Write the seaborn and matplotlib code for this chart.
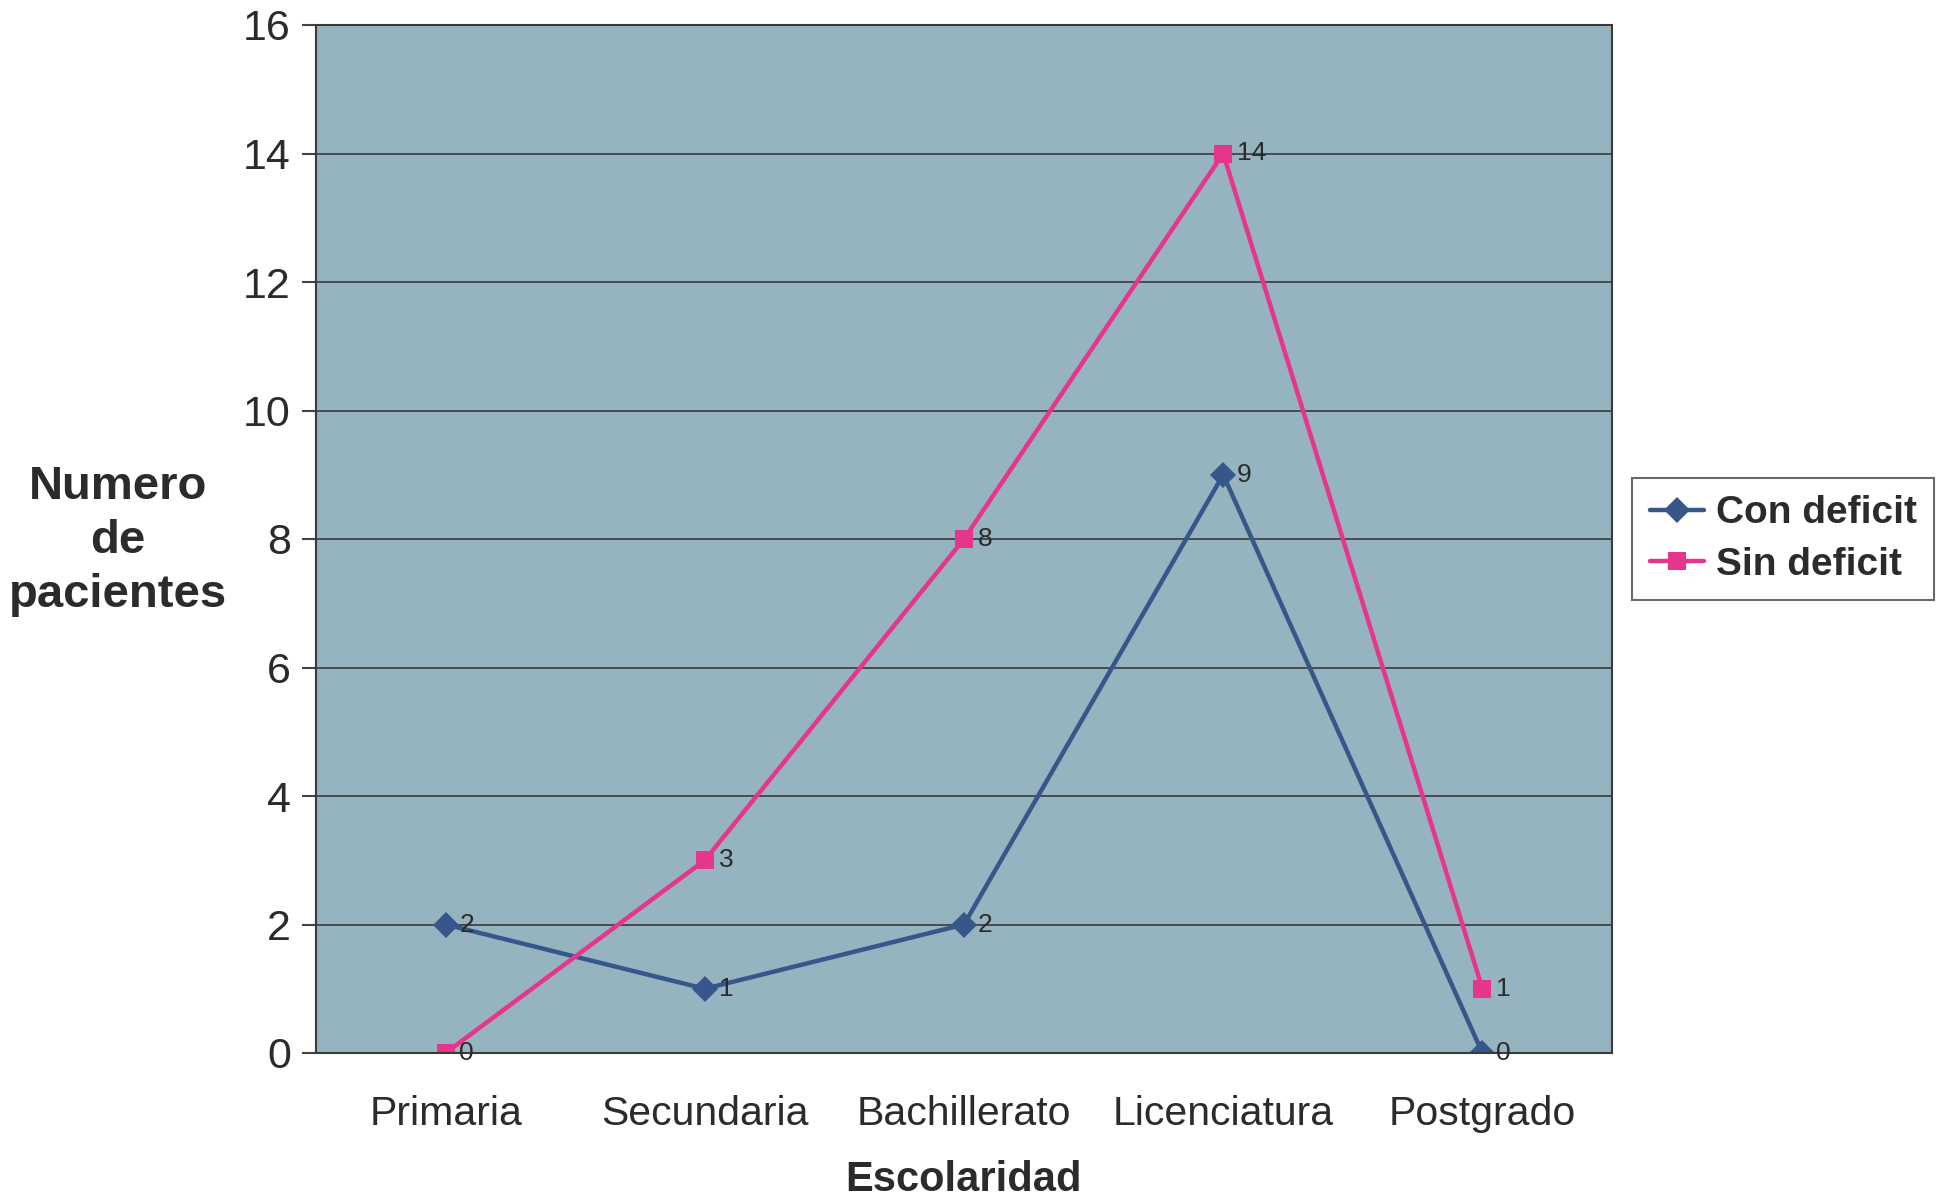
import matplotlib
matplotlib.use("Agg")
import matplotlib.pyplot as plt
import seaborn as sns
import pandas as pd
import numpy as np

categories = ["Primaria", "Secundaria", "Bachillerato", "Licenciatura", "Postgrado"]
con_deficit = [2, 1, 2, 9, 0]
sin_deficit = [0, 3, 8, 14, 1]
series_names = ["Con deficit", "Sin deficit"]
y_ticks = [0, 2, 4, 6, 8, 10, 12, 14, 16]

sns.set_theme(style="white")
plt.rcParams["font.family"] = ["Liberation Sans", "DejaVu Sans"]

df = pd.DataFrame({
    "pos": list(range(len(categories))) * 2,
    "valor": con_deficit + sin_deficit,
    "serie": [series_names[0]] * len(categories) + [series_names[1]] * len(categories),
})

colors = {"Con deficit": "#37568a", "Sin deficit": "#e6358c"}
markers = {"Con deficit": "D", "Sin deficit": "s"}
text_color = "#2b2b2b"

fig = plt.figure(figsize=(19.41, 11.99), dpi=100)
ax = fig.add_axes([316 / 1941, 1 - 1053 / 1199, (1612 - 316) / 1941, (1053 - 25) / 1199])
ax.set_facecolor("#96b4bf")

sns.lineplot(data=df, x="pos", y="valor", hue="serie", style="serie",
             palette=colors, markers=markers, dashes=False, linewidth=3.2,
             markersize=13, markeredgewidth=0, ax=ax, legend=True)

# value labels beside each point
for vals in (con_deficit, sin_deficit):
    for i, v in enumerate(vals):
        ax.annotate(str(v), (i, v), xytext=(10, 0), textcoords="offset points",
                    ha="left", va="center", fontsize=19, color=text_color)

ax.set_xlim(-0.5, len(categories) - 0.5)
ax.set_ylim(0, 16)
ax.set_yticks(y_ticks)
ax.set_yticklabels([str(t) for t in y_ticks], fontsize=31, color=text_color)
ax.yaxis.grid(True, color="#3a3a3a", linewidth=1.2)
for line in ax.get_ygridlines():
    line.set_zorder(1)

ax.set_xticks(range(len(categories)))
ax.set_xticklabels(categories, fontsize=29.5, color=text_color)
ax.tick_params(axis="x", which="major", length=0, pad=30)
ax.set_xticks(np.arange(-0.5, len(categories)), minor=True)
ax.tick_params(axis="x", which="minor", length=10, width=1.5, color="#444444", direction="out")
ax.tick_params(axis="y", which="major", length=10, width=1.5, color="#444444", direction="out", pad=8)
ax.tick_params(axis="both", bottom=True, left=True)
ax.tick_params(axis="x", which="major", bottom=False)

for s in ax.spines.values():
    s.set_color("#3a3a3a")
    s.set_linewidth(1.5)

ax.set_xlabel("Escolaridad", fontsize=30, fontweight="bold", color=text_color, labelpad=20)
ax.set_ylabel("")
fig.text(118 / 1941, 1 - 541 / 1199, "Numero\nde\npacientes", ha="center", va="center",
         fontsize=34, fontweight="bold", color=text_color, linespacing=1.28)

handles, labels = ax.get_legend_handles_labels()
leg = fig.legend(handles, labels, loc="center left",
                 bbox_to_anchor=(1632 / 1941, 1 - 539 / 1199), borderaxespad=0,
                 frameon=True, fancybox=False, edgecolor="#444444",
                 prop={"size": 28, "weight": "bold"}, handlelength=1.4,
                 handletextpad=0.3, borderpad=0.45, labelspacing=0.4)
leg.get_frame().set_linewidth(1.5)
for t in leg.get_texts():
    t.set_color(text_color)
ax.get_legend().remove()

fig.savefig("out.png", dpi=100, facecolor="white")
